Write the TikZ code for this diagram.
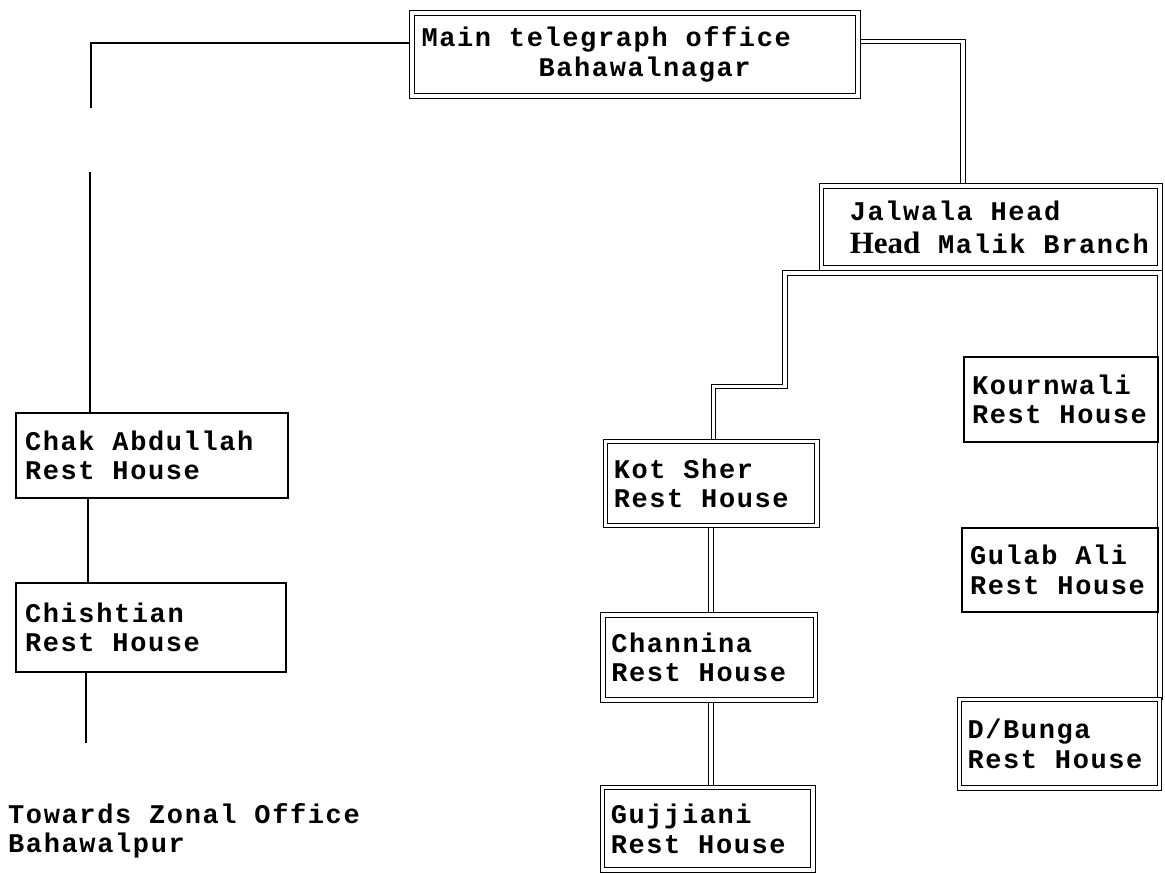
\documentclass[tikz,border=0pt]{standalone}
\usepackage{fontspec}
\newfontfamily\monofam[LetterSpace=6.0]{Liberation Mono}
\newfontfamily\seriffam{Liberation Serif}
\newcommand\tfont{\monofam\bfseries\fontsize{27}{29.5}\selectfont}
\newcommand\hfont{\seriffam\bfseries\fontsize{31}{31}\selectfont}
\usetikzlibrary{backgrounds}
\tikzset{
  box/.style={draw, line width=1.2pt, rectangle, outer sep=0pt, inner xsep=8pt, inner ysep=0pt,
              anchor=north west, align=flush left, font=\tfont,
              execute at begin node={\spaceskip=17.8pt\xspaceskip=17.8pt\relax}},
  dbox/.style={box, double, double distance=3.5pt},
  link/.style={line width=1.2pt},
  dlink/.style={line width=1.2pt, double, double distance=3.5pt},
  plain/.style={inner sep=0pt, anchor=north west, align=left, font=\tfont},
}
\begin{document}
\begin{tikzpicture}[x=1pt,y=-1pt]
\useasboundingbox (0,0) rectangle (1165,875);
% boxes
\node[dbox, minimum width=446pt, minimum height=83pt, text width=427pt, inner xsep=9.5pt] (main) at (412,13)
  {Main telegraph office\\\hspace*{117pt}Bahawalnagar};
\node[dbox, minimum width=338.5pt, minimum height=82pt, text width=320pt, inner xsep=9pt] (jal) at (821.5,186)
  {\hspace*{19pt}Jalwala Head\\[3.5pt]\hspace*{19pt}{\hfont Head} Malik Branch};
\node[box, minimum width=194pt, minimum height=85pt, text width=178pt] (kour) at (964,357)
  {Kournwali\\Rest House};
\node[box, minimum width=196pt, minimum height=84pt, text width=180pt] (gul) at (962,528)
  {Gulab Ali\\Rest House};
\node[dbox, minimum width=200pt, minimum height=88.5pt, text width=184pt, inner xsep=8pt] (dbun) at (959.5,699.5)
  {D/Bunga\\Rest House};
\node[dbox, minimum width=211.5pt, minimum height=84pt, text width=195pt] (kot) at (605.5,441.5)
  {Kot Sher\\Rest House};
\node[dbox, minimum width=212.5pt, minimum height=85pt, text width=196pt] (chan) at (603,615)
  {Channina\\Rest House};
\node[dbox, minimum width=210.5pt, minimum height=82.5pt, text width=194pt] (guj) at (602.5,787.5)
  {Gujjiani\\Rest House};
\node[box, minimum width=272pt, minimum height=85pt, text width=254pt, inner xsep=9pt] (chak) at (16,413)
  {Chak Abdullah\\Rest House};
\node[box, minimum width=270pt, minimum height=89pt, text width=252pt, inner xsep=9pt] (chis) at (16,583)
  {Chishtian\\Rest House};
\node[plain] (zonal) at (8,803) {Towards Zonal Office\\Bahawalpur};
% guide coordinates
\coordinate (lc) at (91,43);
\coordinate (gapT) at (91,108);
\coordinate (gapB) at (90,172);
\coordinate (vA) at (88,0);
\coordinate (vB) at (86,0);
\coordinate (endL) at (86,743);
\coordinate (rt) at (963,41.5);
\coordinate (rv) at (1160,0);
\coordinate (jb) at (785,273);
\coordinate (kb) at (713.5,386.5);
\coordinate (vK) at (711,0);
\begin{scope}[on background layer]
  \fill[white] (0,0) rectangle (1165,875);
  \draw[link] (main.west |- lc) -- (lc) -- (gapT);
  \draw[link] (gapB) -- (gapB |- chak.north);
  \draw[link] (chak.south -| vA) -- (chis.north -| vA);
  \draw[link] (chis.south -| vB) -- (endL);
  \draw[dlink] (main.east |- rt) -- (rt) -- (rt |- jal.north);
  \draw[dlink] (dbun.north -| rv) -- (rv |- jb) -- (jb) -- (jb |- kb) -- (kb) -- (kb |- kot.north);
  \draw[dlink] (kot.south -| vK) -- (chan.north -| vK);
  \draw[dlink] (chan.south -| vK) -- (guj.north -| vK);
\end{scope}
\end{tikzpicture}
\end{document}
